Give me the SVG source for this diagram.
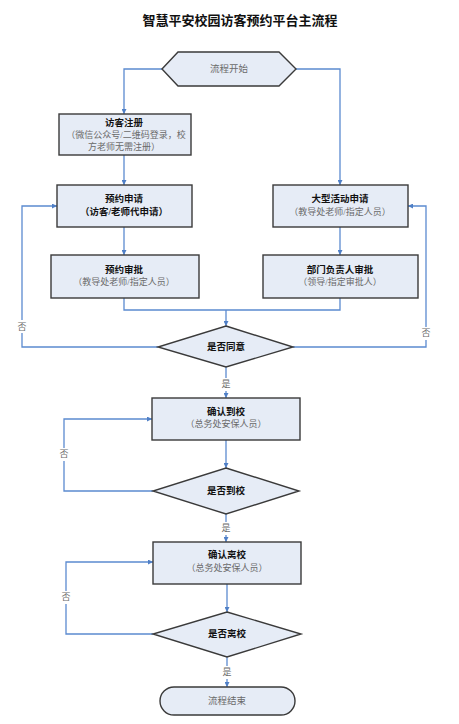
<svg xmlns="http://www.w3.org/2000/svg" width="459" height="724" viewBox="0 0 459 724">
<defs>
<marker id="arr" viewBox="0 0 10 10" refX="10" refY="5" markerWidth="5" markerHeight="5" orient="auto" markerUnits="userSpaceOnUse">
<path d="M0,0 L10,5 L0,10 z" fill="#4F7FC6"/>
</marker>
<style>
.box{fill:#E6ECF6;stroke:#3a3a3a;stroke-width:1.4}
.con{fill:none;stroke:#5B8AD0;stroke-width:1.3}
.t{font-family:"Liberation Serif","Noto Sans CJK SC",serif;text-anchor:middle;dominant-baseline:central}
.b{font-size:9.5px;font-weight:bold;fill:#111}
.g{font-size:9px;fill:#6a6a6a}
.lbl{font-size:9px;fill:#6a6a6a}
.title{font-size:13px;font-weight:bold;fill:#111}
</style>
</defs>
<rect width="459" height="724" fill="#fff"/>
<text class="t title" x="240" y="20">智慧平安校园访客预约平台主流程</text>

<g id="connectors">
<path class="con" d="M162,69 H124 V114" marker-end="url(#arr)"/>
<path class="con" d="M296,69 H340 V185" marker-end="url(#arr)"/>
<path class="con" d="M124,155 V185" marker-end="url(#arr)"/>
<path class="con" d="M124,227 V255" marker-end="url(#arr)"/>
<path class="con" d="M340,227 V255" marker-end="url(#arr)"/>
<path class="con" d="M124,298 V310 H340 V298"/>
<path class="con" d="M226,310 V326" marker-end="url(#arr)"/>
<path class="con" d="M158,347 H22 V206 H57" marker-end="url(#arr)"/>
<path class="con" d="M293,347 H426 V206 H408" marker-end="url(#arr)"/>
<path class="con" d="M226,367 V398" marker-end="url(#arr)"/>
<path class="con" d="M226,440 V468" marker-end="url(#arr)"/>
<path class="con" d="M153,491 H64 V419 H152" marker-end="url(#arr)"/>
<path class="con" d="M226,514 V542" marker-end="url(#arr)"/>
<path class="con" d="M227,584 V612" marker-end="url(#arr)"/>
<path class="con" d="M153,634 H66 V562 H153" marker-end="url(#arr)"/>
<path class="con" d="M227,657 V687" marker-end="url(#arr)"/>
<rect x="16" y="320" width="12" height="13" fill="#fff"/>
<text class="t lbl" x="22" y="327">否</text>
<rect x="420" y="327" width="12" height="13" fill="#fff"/>
<text class="t lbl" x="426" y="333">否</text>
<rect x="220" y="378" width="12" height="13" fill="#fff"/>
<text class="t lbl" x="226" y="384">是</text>
<rect x="58" y="448" width="12" height="13" fill="#fff"/>
<text class="t lbl" x="64" y="454">否</text>
<rect x="220" y="522" width="12" height="13" fill="#fff"/>
<text class="t lbl" x="226" y="528">是</text>
<rect x="60" y="591" width="12" height="13" fill="#fff"/>
<text class="t lbl" x="66" y="597">否</text>
<rect x="221" y="666" width="12" height="13" fill="#fff"/>
<text class="t lbl" x="227" y="672">是</text>
</g>

<g id="start">
<polygon class="box" points="162,69 178,52 279,52 296,69 279,86 178,86"/>
<text class="t g" x="229" y="69" style="font-size:9.5px">流程开始</text>
</g>
<g id="register">
<rect class="box" x="59" y="114" width="132" height="41"/>
<text class="t b" x="124" y="123">访客注册</text>
<text class="t g" x="126" y="135">（微信公众号/二维码登录，校</text>
<text class="t g" x="124" y="147">方老师无需注册）</text>
</g>
<g id="apply">
<rect class="box" x="57" y="185" width="135" height="42"/>
<text class="t b" x="124" y="199">预约申请</text>
<text class="t b" x="124" y="212">（访客/老师代申请）</text>
</g>
<g id="event">
<rect class="box" x="273" y="185" width="135" height="42"/>
<text class="t b" x="340" y="199">大型活动申请</text>
<text class="t g" x="340" y="212">（教导处老师/指定人员）</text>
</g>
<g id="approve">
<rect class="box" x="51" y="255" width="148" height="43"/>
<text class="t b" x="124" y="270">预约审批</text>
<text class="t g" x="124" y="282">（教导处老师/指定人员）</text>
</g>
<g id="deptapprove">
<rect class="box" x="263" y="255" width="155" height="43"/>
<text class="t b" x="340" y="270">部门负责人审批</text>
<text class="t g" x="340" y="282">（领导/指定审批人）</text>
</g>
<g id="agree">
<polygon class="box" points="226,326 293,347 226,367 158,347"/>
<text class="t b" x="226" y="347">是否同意</text>
</g>
<g id="arrive">
<rect class="box" x="152" y="398" width="148" height="42"/>
<text class="t b" x="226" y="412">确认到校</text>
<text class="t g" x="226" y="424">（总务处安保人员）</text>
</g>
<g id="arrived">
<polygon class="box" points="226,468 299,491 226,514 153,491"/>
<text class="t b" x="226" y="491">是否到校</text>
</g>
<g id="leave">
<rect class="box" x="153" y="542" width="148" height="42"/>
<text class="t b" x="227" y="555">确认离校</text>
<text class="t g" x="227" y="568">（总务处安保人员）</text>
</g>
<g id="left">
<polygon class="box" points="227,612 301,634 227,657 153,634"/>
<text class="t b" x="227" y="634">是否离校</text>
</g>
<g id="end">
<rect class="box" x="160" y="687" width="135" height="28" rx="14" ry="14"/>
<text class="t g" x="227" y="701" style="font-size:9.5px">流程结束</text>
</g>
</svg>
